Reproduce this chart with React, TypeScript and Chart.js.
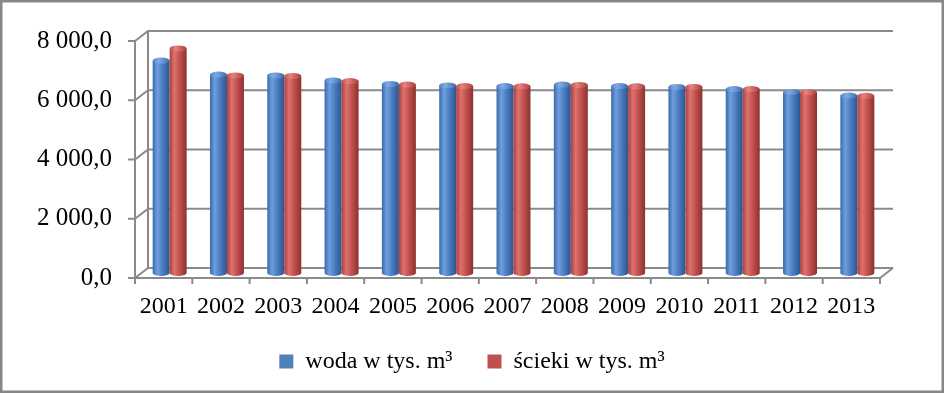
import React, { useEffect, useRef } from "react";
import { Chart, registerables } from "chart.js";

Chart.register(...registerables);

const categories = ["2001", "2002", "2003", "2004", "2005", "2006", "2007", "2008", "2009", "2010", "2011", "2012", "2013"];
const woda = [7170, 6700, 6670, 6500, 6380, 6330, 6310, 6360, 6310, 6280, 6210, 6110, 5990];
const scieki = [7580, 6670, 6650, 6480, 6360, 6310, 6300, 6350, 6300, 6280, 6210, 6100, 5980];
const yTicks = [0, 2000, 4000, 6000, 8000];
const seriesLabels = ["woda w tys. m³", "ścieki w tys. m³"];

const FONT = "'Liberation Serif', 'Times New Roman', serif";
const W = 944;
const H = 393;
const PLOT_BOTTOM = 278;
const PAD_BOTTOM = 9.6;

function fmt(v: number): string {
  if (v >= 1000) {
    const th = Math.floor(v / 1000);
    const rest = String(v % 1000).padStart(3, "0");
    return `${th} ${rest},0`;
  }
  return `${v},0`;
}

const palettes = [
  { stops: ["#3a6aab", "#6e9edd", "#4a7cc0", "#2c5590"], top: ["#5585c6", "#7eaae3", "#5b8bcb", "#3f6aa8"] },
  { stops: ["#a8413f", "#de716e", "#c0504d", "#8c3230"], top: ["#bd5451", "#e6837f", "#c95d5a", "#a34341"] },
];

const depthPlugin = {
  id: "depth3d",
  beforeDraw(chart: any) {
    const { ctx, width, height } = chart;
    ctx.save();
    ctx.fillStyle = "#ffffff";
    ctx.fillRect(0, 0, width, height);
    ctx.restore();
  },
  beforeDatasetsDraw(chart: any) {
    const { ctx, chartArea, scales } = chart;
    const { left, right, top, bottom } = chartArea;
    const y = scales.y;
    const DX = 13;
    const DY = -10;
    ctx.save();
    ctx.strokeStyle = "#8a8a8a";
    ctx.lineWidth = 2;
    ctx.beginPath();
    for (const v of yTicks) {
      const py = y.getPixelForValue(v);
      ctx.moveTo(left - 7, py);
      ctx.lineTo(left, py);
      ctx.lineTo(left + DX, py + DY);
      ctx.lineTo(right + DX, py + DY);
    }
    ctx.moveTo(left + DX, top + DY);
    ctx.lineTo(left + DX, bottom + DY);
    ctx.moveTo(left, top);
    ctx.lineTo(left, bottom);
    ctx.moveTo(left, bottom);
    ctx.lineTo(right, bottom);
    ctx.lineTo(right + DX, bottom + DY);
    const n = categories.length;
    for (let i = 0; i <= n; i++) {
      const px = left + ((right - left) * i) / n;
      ctx.moveTo(px, bottom);
      ctx.lineTo(px, bottom + 6);
    }
    ctx.stroke();

    const ox = 6;
    const oy = -5;
    const ry = 3;
    chart.data.datasets.forEach((ds: any, di: number) => {
      const meta = chart.getDatasetMeta(di);
      const pal = palettes[di];
      meta.data.forEach((el: any) => {
        const p = el.getProps(["x", "y", "base", "width"], true);
        const cx = p.x + ox;
        const hw = p.width / 2;
        const t = p.y + oy;
        const b = p.base + oy;
        const g = ctx.createLinearGradient(cx - hw, 0, cx + hw, 0);
        g.addColorStop(0, pal.stops[0]);
        g.addColorStop(0.28, pal.stops[1]);
        g.addColorStop(0.6, pal.stops[2]);
        g.addColorStop(1, pal.stops[3]);
        ctx.beginPath();
        ctx.moveTo(cx - hw, t);
        ctx.lineTo(cx - hw, b);
        ctx.ellipse(cx, b, hw, ry, 0, Math.PI, 0, true);
        ctx.lineTo(cx + hw, t);
        ctx.closePath();
        ctx.fillStyle = g;
        ctx.fill();
        const gt = ctx.createLinearGradient(cx - hw, 0, cx + hw, 0);
        gt.addColorStop(0, pal.top[0]);
        gt.addColorStop(0.35, pal.top[1]);
        gt.addColorStop(0.7, pal.top[2]);
        gt.addColorStop(1, pal.top[3]);
        ctx.beginPath();
        ctx.ellipse(cx, t, hw, ry, 0, 0, Math.PI * 2);
        ctx.fillStyle = gt;
        ctx.fill();
      });
    });
    ctx.restore();
    return false;
  },
  afterDraw(chart: any) {
    const { ctx, width, height } = chart;
    ctx.save();
    ctx.strokeStyle = "#868686";
    ctx.lineWidth = 2.5;
    ctx.strokeRect(1.25, 1.25, width - 2.5, height - 2.5);
    ctx.restore();
  },
};

export default function App() {
  const ref = useRef<HTMLCanvasElement | null>(null);
  useEffect(() => {
    if (!ref.current) return;
    const chart = new Chart(ref.current, {
      type: "bar",
      data: {
        labels: categories,
        datasets: [
          { label: seriesLabels[0], data: woda, backgroundColor: "#4F81BD", borderWidth: 0, categoryPercentage: 0.593, barPercentage: 1 },
          { label: seriesLabels[1], data: scieki, backgroundColor: "#C0504D", borderWidth: 0, categoryPercentage: 0.593, barPercentage: 1 },
        ],
      },
      options: {
        responsive: false,
        animation: false,
        layout: { padding: { top: 41, left: 0, right: 0, bottom: PAD_BOTTOM } },
        plugins: {
          tooltip: { enabled: false },
          legend: {
            position: "bottom",
            labels: {
              boxWidth: 14,
              boxHeight: 14,
              padding: 35,
              color: "#000000",
              font: { family: FONT, size: 24 },
            },
          },
        },
        scales: {
          x: {
            grid: { display: false, drawTicks: false },
            border: { display: false },
            ticks: {
              color: "#000000",
              font: { family: FONT, size: 24 },
              mirror: true,
              padding: -43.4,
              maxRotation: 0,
              autoSkip: false,
            },
            afterFit: (s: any) => {
              const lh = s.chart.legend ? s.chart.legend.height : 74;
              s.height = Math.max(1, H - PAD_BOTTOM - lh - PLOT_BOTTOM);
            },
          },
          y: {
            min: 0,
            max: 8000,
            grid: { display: false, drawTicks: false },
            border: { display: false },
            ticks: {
              stepSize: 2000,
              color: "#000000",
              font: { family: FONT, size: 25 },
              padding: 23,
              callback: (v: any) => fmt(Number(v)),
            },
            afterFit: (s: any) => {
              s.width = 135;
            },
          },
          yR: {
            position: "right",
            min: 0,
            max: 1,
            grid: { display: false, drawTicks: false },
            border: { display: false },
            ticks: { display: false },
            afterFit: (s: any) => {
              s.width = 64;
            },
          },
        },
      },
      plugins: [depthPlugin],
    });
    return () => chart.destroy();
  }, []);
  return (
    <div style={{ position: "fixed", left: 0, top: 0, width: W, height: H }}>
      <canvas ref={ref} width={W} height={H} style={{ display: "block" }} />
    </div>
  );
}
